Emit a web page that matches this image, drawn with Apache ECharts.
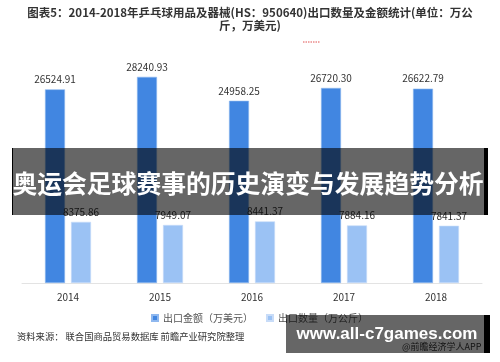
<!DOCTYPE html>
<html>
<head>
<meta charset="utf-8">
<script src="https://cdn.jsdelivr.net/npm/echarts@6/dist/echarts.min.js"></script>
<style>html,body{margin:0;padding:0;background:#fff;}#c{width:500px;height:362px;}</style>
</head>
<body>
<div id="c"></div>
<script>
var categories = ['2014', '2015', '2016', '2017', '2018'];
var exportValue = [26524.91, 28240.93, 24958.25, 26720.30, 26622.79];
var exportQuantity = [8375.86, 7949.07, 8441.37, 7884.16, 7841.37];
var seriesNames = ['出口金额（万美元）', '出口数量（万公斤）'];

var FONT = '"Noto Sans CJK SC", "Noto Sans", sans-serif';
var chart = echarts.init(document.getElementById('c'), null, {renderer: 'canvas'});
chart.setOption({
  backgroundColor: '#fff',
  animation: false,
  textStyle: {fontFamily: FONT},
  grid: {left: 22, right: 18, top: 64, bottom: 79},
  legend: {
    data: seriesNames,
    left: 146, top: 308,
    icon: 'rect', itemWidth: 6, itemHeight: 6, itemGap: 13,
    textStyle: {fontSize: 10, color: '#555', fontFamily: FONT}
  },
  xAxis: {
    type: 'category', data: categories,
    axisLine: {lineStyle: {color: '#e3e3e3'}},
    axisTick: {show: false},
    axisLabel: {color: '#333', fontSize: 10, margin: 9, fontFamily: FONT}
  },
  yAxis: {type: 'value', min: 0, max: 30000, show: false, splitLine: {show: false}},
  series: [
    {
      name: seriesNames[0], type: 'bar', data: exportValue,
      barWidth: 20, barGap: '30%',
      itemStyle: {color: '#4186e1', borderColor: '#8fb8ef', borderWidth: 0.6},
      label: {show: true, position: 'top', distance: 5, fontSize: 10, color: '#333', fontFamily: FONT,
        formatter: function(p){ return p.value.toFixed(2); }}
    },
    {
      name: seriesNames[1], type: 'bar', data: exportQuantity,
      barWidth: 20,
      itemStyle: {color: '#9bc2f4', borderColor: '#c8dcf8', borderWidth: 0.6},
      label: {show: true, position: 'top', distance: 5, fontSize: 10, color: '#333', fontFamily: FONT,
        formatter: function(p){ return p.value.toFixed(2); }}
    }
  ],
  graphic: [
    {type: 'text', left: 'center', top: 6, z: 100,
      style: {text: '图表5：2014-2018年乒乓球用品及器械(HS：950640)出口数量及金额统计(单位：万公\n斤，万美元)',
        fill: '#333', font: 'bold 11.5px "Noto Sans CJK SC", sans-serif', textAlign: 'center', lineHeight: 13}},
    {type: 'line', z: 100, shape: {x1: 303, y1: 42, x2: 320, y2: 42},
      style: {stroke: '#e05050', lineWidth: 1, lineDash: [1.5, 1]}},
    {type: 'text', left: 17, top: 332, z: 100,
      style: {text: '资料来源： 联合国商品贸易数据库 前瞻产业研究院整理', fill: '#333',
        font: '9.3px "Noto Sans CJK SC", sans-serif'}},
    {type: 'text', left: 402, top: 342, z: 99,
      style: {text: '@前瞻经济学人APP', fill: '#333', font: '9px "Noto Sans CJK SC", sans-serif'}},
    {type: 'rect', z: 100, shape: {x: 12, y: 148, width: 472, height: 67},
      style: {fill: 'rgba(0,0,0,0.6)'}},
    {type: 'rect', z: 101, shape: {x: 12, y: 148, width: 1, height: 67}, style: {fill: '#000'}},
    {type: 'rect', z: 101, shape: {x: 484, y: 148, width: 4, height: 67}, style: {fill: '#000'}},
    {type: 'text', z: 102, x: 248, y: 184,
      style: {text: '奥运会足球赛事的历史演变与发展趋势分析', fill: '#fff', textAlign: 'center', textVerticalAlign: 'middle',
        font: 'bold 24.8px "Noto Sans CJK SC", sans-serif'}},
    {type: 'rect', z: 100, shape: {x: 286, y: 315, width: 198, height: 38},
      style: {fill: 'rgba(0,0,0,0.6)'}},
    {type: 'rect', z: 101, shape: {x: 484, y: 315, width: 6, height: 38}, style: {fill: '#000'}},
    {type: 'text', z: 102, x: 387, y: 334,
      style: {text: 'www.all-c7games.com', fill: '#fff', textAlign: 'center', textVerticalAlign: 'middle',
        font: 'bold 17px "Liberation Sans", Arial, sans-serif'}}
  ]
});
</script>
</body>
</html>
